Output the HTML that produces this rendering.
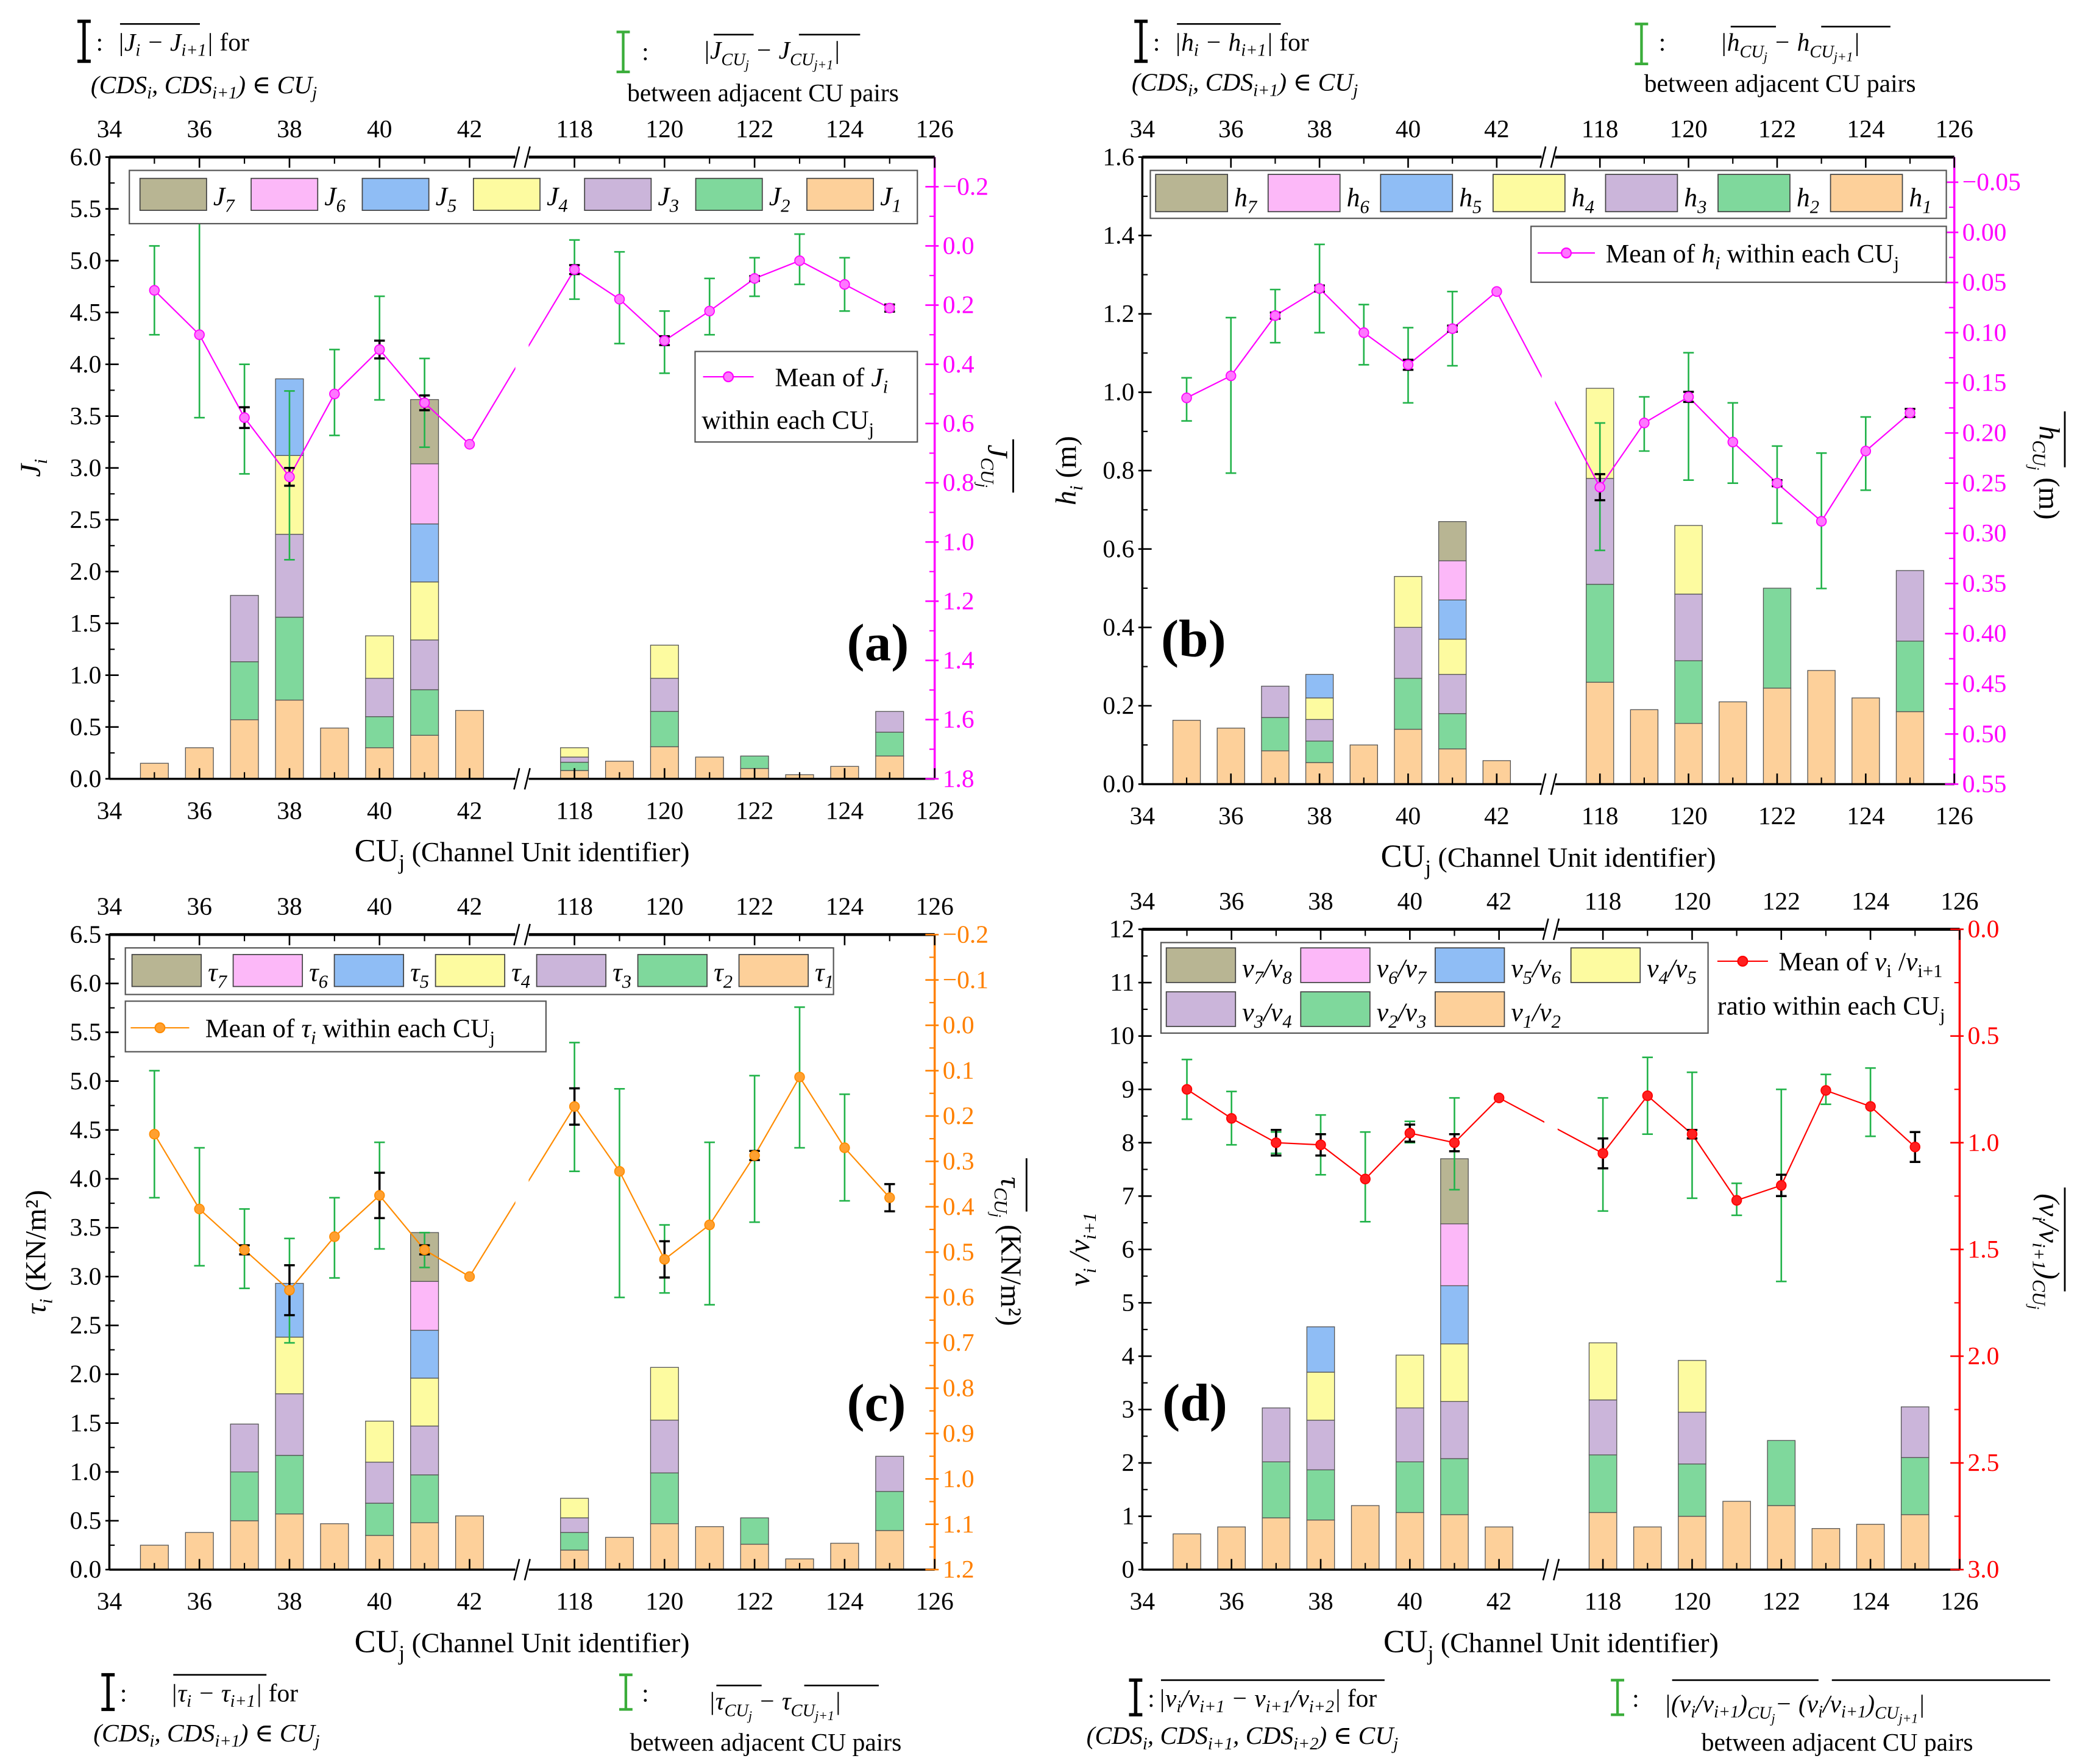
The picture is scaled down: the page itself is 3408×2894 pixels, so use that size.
<!DOCTYPE html>
<html><head><meta charset="utf-8"><style>
html,body{margin:0;padding:0;background:#fff;}
svg{display:block;font-family:"Liberation Serif","DejaVu Serif",serif;}
</style></head><body>
<svg id="fig" xmlns="http://www.w3.org/2000/svg" width="3408" height="2894" viewBox="0 0 1560 1325">
<rect x="0" y="0" width="1560" height="1325" fill="#fff"/>
<g font-size="19">
<path d="M58 16h10M63 16v30M58 46h10" stroke="#000" stroke-width="2.5" fill="none"/>
<text x="72" y="38">:</text>
<line x1="90" y1="18" x2="150" y2="18" stroke="#000" stroke-width="1.2"/>
<text x="88" y="38" font-style="italic">|J<tspan font-size="13" dy="4">i</tspan><tspan dy="-4"> − J</tspan><tspan font-size="13" dy="4">i+1</tspan><tspan dy="-4">|</tspan><tspan font-style="normal">  for</tspan></text>
<text x="68" y="70" font-style="italic">(CDS<tspan font-size="13" dy="4">i</tspan><tspan dy="-4">, CDS</tspan><tspan font-size="13" dy="4">i+1</tspan><tspan dy="-4">) ∈ CU</tspan><tspan font-size="13" dy="4">j</tspan></text>
<path d="M463 24h10M468 24v30M463 54h10" stroke="#3aad3a" stroke-width="2" fill="none"/>
<text x="482" y="45">:</text>
<text x="528" y="44" font-style="italic">|J<tspan font-size="13" dy="5">CU</tspan><tspan font-size="10" dy="3">j</tspan><tspan dy="-8"> − J</tspan><tspan font-size="13" dy="5">CU</tspan><tspan font-size="10" dy="3">j+1</tspan><tspan dy="-8">|</tspan></text>
<line x1="536" y1="26" x2="566" y2="26" stroke="#000" stroke-width="1.2"/><line x1="600" y1="26" x2="646" y2="26" stroke="#000" stroke-width="1.2"/>
<text x="471" y="76">between adjacent CU pairs</text>
</g>
<g font-size="19">
<path d="M852 16h10M857 16v30M852 46h10" stroke="#000" stroke-width="2.5" fill="none"/>
<text x="866" y="38">:</text>
<line x1="884" y1="18" x2="962" y2="18" stroke="#000" stroke-width="1.2"/>
<text x="882" y="38" font-style="italic">|h<tspan font-size="13" dy="4">i</tspan><tspan dy="-4"> − h</tspan><tspan font-size="13" dy="4">i+1</tspan><tspan dy="-4">|</tspan><tspan font-style="normal">  for</tspan></text>
<text x="850" y="68" font-style="italic">(CDS<tspan font-size="13" dy="4">i</tspan><tspan dy="-4">, CDS</tspan><tspan font-size="13" dy="4">i+1</tspan><tspan dy="-4">) ∈ CU</tspan><tspan font-size="13" dy="4">j</tspan></text>
<path d="M1228 18h10M1233 18v30M1228 48h10" stroke="#3aad3a" stroke-width="2" fill="none"/>
<text x="1246" y="38">:</text>
<text x="1292" y="38" font-style="italic">|h<tspan font-size="13" dy="5">CU</tspan><tspan font-size="10" dy="3">j</tspan><tspan dy="-8"> − h</tspan><tspan font-size="13" dy="5">CU</tspan><tspan font-size="10" dy="3">j+1</tspan><tspan dy="-8">|</tspan></text>
<line x1="1300" y1="20" x2="1334" y2="20" stroke="#000" stroke-width="1.2"/><line x1="1368" y1="20" x2="1420" y2="20" stroke="#000" stroke-width="1.2"/>
<text x="1235" y="69">between adjacent CU pairs</text>
</g>
<g font-size="19">
<path d="M76 1258h10M81 1258v26M76 1284h10" stroke="#000" stroke-width="2.5" fill="none"/>
<text x="90" y="1278">:</text>
<line x1="130" y1="1258" x2="200" y2="1258" stroke="#000" stroke-width="1.2"/>
<text x="128" y="1278" font-style="italic">|τ<tspan font-size="13" dy="4">i</tspan><tspan dy="-4"> − τ</tspan><tspan font-size="13" dy="4">i+1</tspan><tspan dy="-4">|</tspan><tspan font-style="normal">  for</tspan></text>
<text x="70" y="1308" font-style="italic">(CDS<tspan font-size="13" dy="4">i</tspan><tspan dy="-4">, CDS</tspan><tspan font-size="13" dy="4">i+1</tspan><tspan dy="-4">) ∈ CU</tspan><tspan font-size="13" dy="4">j</tspan></text>
<path d="M465 1258h10M470 1258v26M465 1284h10" stroke="#3aad3a" stroke-width="2" fill="none"/>
<text x="482" y="1278">:</text>
<text x="532" y="1284" font-style="italic">|τ<tspan font-size="13" dy="5">CU</tspan><tspan font-size="10" dy="3">j</tspan><tspan dy="-8"> − τ</tspan><tspan font-size="13" dy="5">CU</tspan><tspan font-size="10" dy="3">j+1</tspan><tspan dy="-8">|</tspan></text>
<line x1="538" y1="1266" x2="572" y2="1266" stroke="#000" stroke-width="1.2"/><line x1="604" y1="1266" x2="660" y2="1266" stroke="#000" stroke-width="1.2"/>
<text x="473" y="1315">between adjacent CU pairs</text>
</g>
<g font-size="19">
<path d="M848 1262h10M853 1262v26M848 1288h10" stroke="#000" stroke-width="2.5" fill="none"/>
<text x="862" y="1282">:</text>
<line x1="872" y1="1262" x2="1040" y2="1262" stroke="#000" stroke-width="1.2"/>
<text x="870" y="1282" font-style="italic">|v<tspan font-size="13" dy="4">i</tspan><tspan dy="-4">/v</tspan><tspan font-size="13" dy="4">i+1</tspan><tspan dy="-4"> − v</tspan><tspan font-size="13" dy="4">i+1</tspan><tspan dy="-4">/v</tspan><tspan font-size="13" dy="4">i+2</tspan><tspan dy="-4">|</tspan><tspan font-style="normal">  for</tspan></text>
<text x="816" y="1310" font-style="italic">(CDS<tspan font-size="13" dy="4">i</tspan><tspan dy="-4">, CDS</tspan><tspan font-size="13" dy="4">i+1</tspan><tspan dy="-4">, CDS</tspan><tspan font-size="13" dy="4">i+2</tspan><tspan dy="-4">) ∈ CU</tspan><tspan font-size="13" dy="4">j</tspan></text>
<path d="M1210 1262h10M1215 1262v26M1210 1288h10" stroke="#3aad3a" stroke-width="2" fill="none"/>
<text x="1226" y="1282">:</text>
<text x="1250" y="1286" font-style="italic">|(v<tspan font-size="13" dy="4">i</tspan><tspan dy="-4">/v</tspan><tspan font-size="13" dy="4">i+1</tspan><tspan dy="-4">)</tspan><tspan font-size="13" dy="5">CU</tspan><tspan font-size="10" dy="3">j</tspan><tspan dy="-8">− (v</tspan><tspan font-size="13" dy="4">i</tspan><tspan dy="-4">/v</tspan><tspan font-size="13" dy="4">i+1</tspan><tspan dy="-4">)</tspan><tspan font-size="13" dy="5">CU</tspan><tspan font-size="10" dy="3">j+1</tspan><tspan dy="-8">|</tspan></text>
<line x1="1256" y1="1262" x2="1366" y2="1262" stroke="#000" stroke-width="1.2"/><line x1="1376" y1="1262" x2="1540" y2="1262" stroke="#000" stroke-width="1.2"/>
<text x="1278" y="1315">between adjacent CU pairs</text>
</g>
<g id="charts"></g>
</svg>
<script>
const cats=[35,36,37,38,39,40,41,42,118,119,120,121,122,123,124,125];
const stackColors=['#fdd09a','#7fd89c','#cbb5da','#fdfba0','#8fbdf5','#fcb8f8','#b8b593'];
const aStacks=[[.15],[.3],[.57,.56,.64],[.76,.8,.8,.76,.74],[.49],[.3,.3,.37,.41],[.42,.44,.48,.56,.56,.58,.62],[.66],[.08,.08,.05,.09],[.17],[.31,.34,.32,.32],[.21],[.1,.12],[.04],[.12],[.22,.23,.2]];
const aMean=[.15,.3,.58,.78,.5,.35,.53,.67,.08,.18,.32,.22,.11,.05,.13,.21];
const aGreenLo=[0,-.1,.4,.49,.35,.17,.38,null,-.02,.02,.22,.11,.04,-.04,.04,null];
const aGreenHi=[.3,.58,.77,1.06,.64,.52,.68,null,.18,.33,.43,.3,.17,.13,.22,null];
const aBlack=[0,0,.035,.03,0,.03,.025,0,.015,0,.015,0,.008,0,0,.012];
const bStacks=[[.163],[.143],[.085,.085,.08],[.055,.055,.055,.055,.06],[.1],[.14,.13,.13,.13],[.09,.09,.1,.09,.1,.1,.1],[.06],[.26,.25,.27,.23],[.19],[.155,.16,.17,.175],[.21],[.245,.255],[.29],[.22],[.185,.18,.18]];
const bMean=[.165,.143,.083,.056,.10,.132,.096,.059,.254,.19,.164,.209,.25,.288,.218,.18];
const bGreenLo=[.145,.085,.057,.012,.072,.095,.059,null,.19,.164,.12,.17,.213,.22,.184,null];
const bGreenHi=[.188,.24,.11,.1,.132,.17,.133,null,.317,.218,.247,.25,.29,.355,.257,null];
const bBlack=[0,0,.003,.003,0,.005,.003,0,.013,0,.005,0,.003,0,0,.004];
const cStacks=[[.25],[.38],[.5,.5,.49],[.57,.6,.63,.58,.55],[.47],[.35,.33,.42,.42],[.48,.49,.5,.49,.49,.5,.5],[.55],[.2,.18,.15,.2],[.33],[.47,.52,.54,.54],[.44],[.26,.27],[.11],[.27],[.4,.4,.36]];
const cMean=[.24,.405,.495,.584,.466,.375,.495,.554,.179,.322,.516,.44,.287,.114,.27,.38];
const cGreenLo=[.10,.27,.405,.47,.38,.258,.457,null,.038,.14,.44,.258,.111,-.04,.152,null];
const cGreenHi=[.38,.53,.58,.70,.557,.493,.534,null,.322,.60,.59,.616,.434,.27,.387,null];
const cBlack=[0,0,.01,.055,0,.05,.01,0,.04,0,.04,0,.01,0,0,.03];
const dStacks=[[.67],[.8],[.97,1.05,1.01],[.93,.94,.93,.9,.85],[1.2],[1.07,.95,1.01,.99],[1.03,1.05,1.07,1.08,1.09,1.16,1.22],[.8],[1.07,1.08,1.03,1.07],[.8],[1.0,.98,.97,.97],[1.28],[1.2,1.22],[.77],[.85],[1.03,1.07,.95]];
const dMean=[.75,.886,1.0,1.01,1.17,.955,1.0,.79,1.05,.78,.96,1.27,1.2,.755,.83,1.02];
const dGreenLo=[.61,.76,.95,.87,.95,.9,.79,null,.79,.6,.67,1.19,.75,.68,.65,null];
const dGreenHi=[.89,1.01,1.05,1.15,1.37,1.0,1.22,null,1.32,.96,1.26,1.34,1.65,.82,.97,null];
const dBlack=[0,0,.06,.05,0,.04,.04,0,.07,0,.02,0,.05,0,0,.07];
const xTicksLeft=[34,36,38,40,42];
const xTicksRight=[118,120,122,124,126];

const NS='http://www.w3.org/2000/svg';
const root=document.getElementById('charts');
function mk(tag,attrs,parent){const e=document.createElementNS(NS,tag);for(const k in attrs)e.setAttribute(k,attrs[k]);(parent||root).appendChild(e);return e;}

function panel(cfg){
  const g=mk('g',{});
  
  
  const u=(cfg.x1-cfg.x0)/18.33;
  const X=v=> v<80 ? cfg.x0+(v-34)*u : cfg.x0+(10.33+(v-118))*u;
  const brk=cfg.x0+9.165*u;
  const YL=v=> cfg.y1-(v-cfg.L[0])/(cfg.L[1]-cfg.L[0])*(cfg.y1-cfg.y0);
  const YR=v=> cfg.y0+(v-cfg.R[0])/(cfg.R[1]-cfg.R[0])*(cfg.y1-cfg.y0);
  const bw=0.62*u;
  cfg.stacks.forEach((st,i)=>{
    let acc=0;
    st.forEach((val,k)=>{
      const r=mk('rect',{x:X(cats[i])-bw/2,y:YL(acc+val),width:bw,height:YL(acc)-YL(acc+val),fill:stackColors[k],stroke:'#555','stroke-width':0.6},g);
      
      
      acc+=val;
    });
  });
  const pts=cats.map((c,i)=>X(c)+','+YR(cfg.mean[i])).join(' ');
  const pl=mk('polyline',{points:pts,fill:'none',stroke:cfg.lineColor,'stroke-width':1},g);
  
  
  const gp=mk('rect',{x:brk-5,y:cfg.y0+2,width:10,height:cfg.y1-cfg.y0-4,fill:'#fff'},g);
  
  
  cats.forEach((c,i)=>{
    if(cfg.glo[i]===null)return;
    const x=X(c),a=YR(cfg.glo[i]),b=YR(cfg.ghi[i]);
    const p=mk('path',{d:`M${x},${a}V${b}M${x-4},${a}H${x+4}M${x-4},${b}H${x+4}`,stroke:'#22b34a','stroke-width':1.2,fill:'none'},g);
    
    
  });
  cats.forEach((c,i)=>{
    const e=cfg.black[i]; if(!e)return;
    const x=X(c),a=YR(cfg.mean[i]-e),b=YR(cfg.mean[i]+e);
    const p=mk('path',{d:`M${x},${a}V${b}M${x-4},${a}H${x+4}M${x-4},${b}H${x+4}`,stroke:'#000','stroke-width':1.6,fill:'none'},g);
    
    
  });
  cats.forEach((c,i)=>{
    const m=mk('circle',{cx:X(c),cy:YR(cfg.mean[i]),r:3.6,fill:cfg.markerFill,stroke:cfg.lineColor,'stroke-width':0.8},g);
    
    
  });
  const ax=mk('g',{stroke:'#000','stroke-width':1.6,fill:'none'},g);
  
  
  mk('line',{x1:cfg.x0,y1:cfg.y0,x2:cfg.x1,y2:cfg.y0,'stroke-width':2.2},ax);
  mk('line',{x1:cfg.x0,y1:cfg.y1,x2:cfg.x1,y2:cfg.y1},ax);
  mk('line',{x1:cfg.x0,y1:cfg.y0,x2:cfg.x0,y2:cfg.y1},ax);
  mk('line',{x1:cfg.x1,y1:cfg.y0,x2:cfg.x1,y2:cfg.y1,stroke:cfg.rColor},ax);
  [cfg.y0,cfg.y1].forEach(yy=>{
    mk('rect',{x:brk-5,y:yy-3,width:10,height:6,fill:'#fff',stroke:'none'},ax);
    mk('line',{x1:brk-6,y1:yy+8,x2:brk-2,y2:yy-8,'stroke-width':1.2},ax);
    mk('line',{x1:brk+2,y1:yy+8,x2:brk+6,y2:yy-8,'stroke-width':1.2},ax);
  });
  const xt=[...xTicksLeft,...xTicksRight];
  const minors=[35,37,39,41,119,121,123,125];
  xt.forEach(v=>{
    const x=X(v);
    mk('line',{x1:x,y1:cfg.y0,x2:x,y2:cfg.y0+8,'stroke-width':1.2},ax);
    mk('line',{x1:x,y1:cfg.y1,x2:x,y2:cfg.y1-8,'stroke-width':1.2},ax);
    const t1=mk('text',{x:x,y:cfg.y1+30,'text-anchor':'middle','font-size':19},g);
    t1.textContent=v;
    
    
    const t2=mk('text',{x:x,y:cfg.y0-15,'text-anchor':'middle','font-size':19},g);
    t2.textContent=v;
    
    
  });
  minors.forEach(v=>{const x=X(v);
    mk('line',{x1:x,y1:cfg.y0,x2:x,y2:cfg.y0+5,'stroke-width':1},ax);
    mk('line',{x1:x,y1:cfg.y1,x2:x,y2:cfg.y1-5,'stroke-width':1},ax);});
  for(let v=cfg.L[0];v<=cfg.L[1]+1e-9;v+=cfg.Lstep){
    const y=YL(v);
    mk('line',{x1:cfg.x0-3,y1:y,x2:cfg.x0+7,y2:y,'stroke-width':1.2},ax);
    const ym=YL(v+cfg.Lstep/2); if(v+cfg.Lstep/2<cfg.L[1]) mk('line',{x1:cfg.x0,y1:ym,x2:cfg.x0+4,y2:ym,'stroke-width':1},ax);
    const t=mk('text',{x:cfg.x0-6,y:y+6,'text-anchor':'end','font-size':19},g);
    t.textContent=v.toFixed(cfg.Ldec);
    
    
  }
  const rs=cfg.Rticks[0],re=cfg.Rticks[1],st=cfg.Rticks[2];
  for(let v=rs;v<=re+1e-9;v+=st){
    const y=YR(v);
    mk('line',{x1:cfg.x1-7,y1:y,x2:cfg.x1+3,y2:y,stroke:cfg.rColor,'stroke-width':1.2},ax);
    const ym=YR(v+st/2); if(v+st/2<re) mk('line',{x1:cfg.x1-4,y1:ym,x2:cfg.x1,y2:ym,stroke:cfg.rColor,'stroke-width':1},ax);
    const t=mk('text',{x:cfg.x1+6,y:y+6,'font-size':19,fill:cfg.rColor},g);
    t.textContent=(Math.abs(v)<1e-9?0:v).toFixed(cfg.Rdec).replace('-','−');
    
    
  }
  const xt2=mk('text',{x:(cfg.x0+cfg.x1)/2,y:cfg.y1+62,'text-anchor':'middle','font-size':24},g);
  xt2.innerHTML='CU<tspan font-size="16" baseline-shift="-6">j</tspan><tspan font-size="21"> (Channel Unit identifier)</tspan>';
  
  
  const lt=mk('text',{transform:`translate(${cfg.ltx},${(cfg.y0+cfg.y1)/2}) rotate(-90)`,'text-anchor':'middle','font-size':22,'font-style':'italic'},g);
  lt.innerHTML=cfg.lTitle;
  
  
  const rg=mk('g',{transform:`translate(${cfg.rtx},${cfg.rty}) rotate(90)`},g);
  const rt=mk('text',{x:0,y:0,'text-anchor':'middle','font-size':22,'font-style':'italic'},rg);
  rt.innerHTML=cfg.rTitle;
  
  
  const ol=mk('line',{x1:cfg.ol[0],y1:-19,x2:cfg.ol[1],y2:-19,stroke:'#000','stroke-width':1.3},rg);
  
  
  const pl2=mk('text',{x:cfg.lab[0],y:cfg.lab[1],'font-size':40,'font-weight':'bold'},g);
  pl2.textContent='('+cfg.id+')';
  
  
  const lg=mk('g',{},g);
  
  
  const L=cfg.leg;
  mk('rect',{x:L.box[0],y:L.box[1],width:L.box[2],height:L.box[3],fill:'#fff',stroke:'#555','stroke-width':1},lg);
  L.items.forEach((it,n)=>{
    const k=it[0];
    const sw=mk('rect',{x:it[1],y:it[2],width:L.sw[0],height:L.sw[1],fill:stackColors[k],stroke:'#444','stroke-width':0.8},lg);
    
    
    const t=mk('text',{x:it[1]+L.sw[0]+5,y:it[2]+L.sw[1]-4,'font-size':20,'font-style':'italic'},lg);
    t.innerHTML=L.label(k);
    
    
  });
  const M=cfg.ml;
  const mg=mk('g',{},g);
  
  
  if(M.box) mk('rect',{x:M.box[0],y:M.box[1],width:M.box[2],height:M.box[3],fill:'#fff',stroke:'#555','stroke-width':1},mg);
  mk('line',{x1:M.line[0],y1:M.line[2],x2:M.line[1],y2:M.line[2],stroke:cfg.lineColor,'stroke-width':1},mg);
  mk('circle',{cx:(M.line[0]+M.line[1])/2,cy:M.line[2],r:3.6,fill:cfg.markerFill,stroke:cfg.lineColor},mg);
  M.texts.forEach(tt=>{const t=mk('text',{x:tt[0],y:tt[1],'font-size':20},mg);t.innerHTML=tt[2];
    
    });
}
const sub=(s)=>`<tspan font-size="14" baseline-shift="-5">${s}</tspan>`;
const order=[6,5,4,3,2,1,0];
function rowItems(x0,step,y){return order.map((k,n)=>[k,x0+n*step,y]);}
panel({id:'a',x0:82,x1:702,y0:118,y1:585,L:[0,6],Lstep:.5,Ldec:1,R:[-.3,1.8],Rticks:[-.2,1.8,.2],Rdec:1,rColor:'#ff00ff',
  lineColor:'#ff00ff',markerFill:'#ff77ff',stacks:aStacks,mean:aMean,glo:aGreenLo,ghi:aGreenHi,black:aBlack,
  ltx:30,lTitle:'J'+sub('i'),rtx:742,rty:350,rTitle:'J'+sub('CU')+'<tspan font-size="11" baseline-shift="-8">j</tspan>',ol:[-20,20],
  lab:[636,496],
  leg:{box:[97,128,592,40],sw:[50,24],items:rowItems(105,83.5,134),label:k=>'J'+sub(k+1)},
  ml:{box:[522,264,167,68],line:[528,566,283],texts:[[582,290,'Mean of  <tspan font-style="italic">J</tspan>'+sub('<tspan font-style="italic">i</tspan>')],[527,322,'within each  CU'+sub('j')]]}});
panel({id:'b',x0:858,x1:1468,y0:118,y1:589,L:[0,1.6],Lstep:.2,Ldec:1,R:[-.075,.55],Rticks:[-.05,.55,.05],Rdec:2,rColor:'#ff00ff',
  lineColor:'#ff00ff',markerFill:'#ff77ff',stacks:bStacks,mean:bMean,glo:bGreenLo,ghi:bGreenHi,black:bBlack,
  ltx:808,lTitle:'h'+sub('i')+'<tspan font-style="normal">  (m)</tspan>',rtx:1532,rty:355,rTitle:'h'+sub('CU')+'<tspan font-size="11" baseline-shift="-8">j</tspan><tspan font-style="normal">   (m)</tspan>',ol:[-46,-4],
  lab:[872,493],
  leg:{box:[864,128,598,36],sw:[54,28],items:rowItems(868,84.5,131),label:k=>'h'+sub(k+1)},
  ml:{box:[1150,170,312,42],line:[1155,1198,190],texts:[[1206,197,'Mean of  <tspan font-style="italic">h</tspan>'+sub('<tspan font-style="italic">i</tspan>')+' within each CU'+sub('j')]]}});
panel({id:'c',x0:82,x1:702,y0:702,y1:1179,L:[0,6.5],Lstep:.5,Ldec:1,R:[-.2,1.2],Rticks:[-.2,1.2,.1],Rdec:1,rColor:'#ff8000',
  lineColor:'#ff8c00',markerFill:'#ffa030',stacks:cStacks,mean:cMean,glo:cGreenLo,ghi:cGreenHi,black:cBlack,
  ltx:34,lTitle:'τ'+sub('i')+'<tspan font-style="normal">  (KN/m²)</tspan>',rtx:752,rty:940,rTitle:'τ'+sub('CU')+'<tspan font-size="11" baseline-shift="-8">j</tspan><tspan font-style="normal">  (KN/m²)</tspan>',ol:[-70,-30],
  lab:[636,1067],
  leg:{box:[94,712,532,35],sw:[52,24],items:rowItems(99,76,717),label:k=>'τ'+sub(k+1)},
  ml:{box:[94,752,316,38],line:[98,142,772],texts:[[154,779,'Mean of  <tspan font-style="italic">τ</tspan>'+sub('<tspan font-style="italic">i</tspan>')+' within each CU'+sub('j')]]}});
panel({id:'d',x0:858,x1:1472,y0:698,y1:1179,L:[0,12],Lstep:1,Ldec:0,R:[0,3],Rticks:[0,3,.5],Rdec:1,rColor:'#ff0000',
  lineColor:'#ff0000',markerFill:'#ff2020',stacks:dStacks,mean:dMean,glo:dGreenLo,ghi:dGreenHi,black:dBlack,
  ltx:818,lTitle:'v'+sub('i')+' /v'+sub('i+1'),rtx:1532,rty:940,rTitle:'(v'+sub('i')+'/v'+sub('i+1')+')'+sub('CU')+'<tspan font-size="11" baseline-shift="-8">j</tspan>',ol:[-48,30],
  lab:[873,1067],
  leg:{box:[872,708,411,68],sw:[52,26],items:[[6,876,712],[5,977,712],[4,1078,712],[3,1180,712],[2,876,745],[1,977,745],[0,1078,745]],
    label:k=>'v'+sub(k+1)+'/v'+sub(k+2)},
  ml:{box:null,line:[1290,1328,722],texts:[[1336,729,'Mean of <tspan font-style="italic">v</tspan>'+sub('i')+' /<tspan font-style="italic">v</tspan>'+sub('i+1')],[1290,762,'ratio within each CU'+sub('j')]]}});
</script>
</body></html>
